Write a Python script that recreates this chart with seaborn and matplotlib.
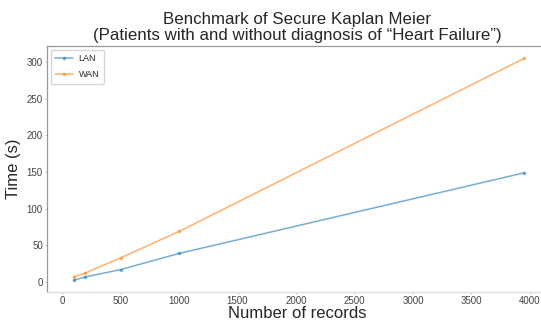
import numpy as np
import pandas as pd
import seaborn as sns
import matplotlib.pyplot as plt

# values
records = [100, 200, 500, 1000, 3950]
lan_time = [2.5, 7, 17, 39, 149]
wan_time = [7, 12.5, 33, 69, 305]

df = pd.DataFrame({
    'records': records * 2,
    'time': lan_time + wan_time,
    'network': ['LAN'] * len(records) + ['WAN'] * len(records),
})

sns.set_style('ticks')
plt.rcParams['font.family'] = ['Liberation Sans', 'DejaVu Sans']

fig = plt.figure(figsize=(5.41, 3.24), dpi=100)
# right edge of the axes runs just past the picture, like the cropped original
ax = fig.add_axes([0.087, 0.10, 0.925, 0.758])

sns.lineplot(data=df, x='records', y='time', hue='network',
             palette=['#1f77b4', '#ff7f0e'], marker='o', markersize=2.5,
             markeredgewidth=0, linewidth=1.1, alpha=0.6, ax=ax)

ax.set_xlim(-128, 4150)
ax.set_ylim(-13, 322)
ax.set_xticks(np.arange(0, 4001, 500))
ax.set_yticks(np.arange(0, 301, 50))
ax.tick_params(labelsize=7, length=1.5, width=0.6, colors='#bbbbbb',
               labelcolor='#444444', pad=1.5)
for spine in ax.spines.values():
    spine.set_visible(True)
    spine.set_linewidth(0.9)
ax.spines['left'].set_color('#999999')
ax.spines['top'].set_color('#999999')
ax.spines['bottom'].set_color('#dddddd')

ax.set_xlabel('Number of records', fontsize=12, labelpad=0)
ax.set_ylabel('Time (s)', fontsize=12, labelpad=4)
ax.set_title('Benchmark of Secure Kaplan Meier\n(Patients with and without diagnosis of \u201cHeart Failure\u201d)',
             fontsize=12.2, linespacing=1.1, pad=4)

leg = ax.legend(loc='upper left', fontsize=6.5, frameon=True, handlelength=2.0,
                handletextpad=0.6, borderpad=0.5, labelspacing=0.8,
                borderaxespad=0.4)
leg.get_frame().set_edgecolor('#cccccc')

fig.savefig('out.png', dpi=100)
